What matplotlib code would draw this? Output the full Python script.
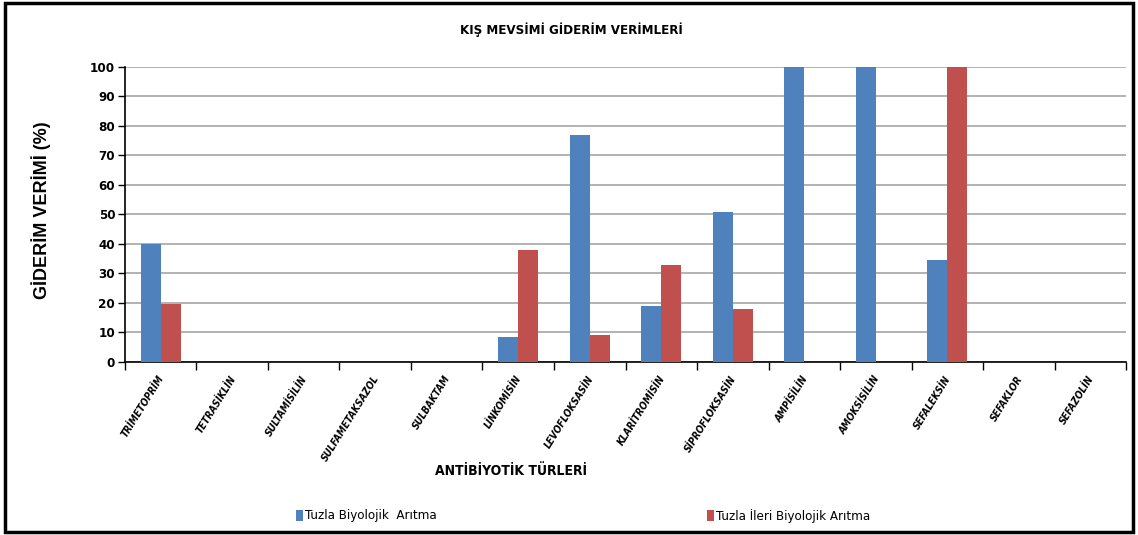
import matplotlib
matplotlib.use("Agg")
from matplotlib import pyplot as plt
from matplotlib.patches import Rectangle
import numpy as np

categories = ['TRİMETOPRİM', 'TETRASİKLİN', 'SULTAMİSİLİN', 'SULFAMETAKSAZOL', 'SULBAKTAM',
              'LİNKOMİSİN', 'LEVOFLOKSASİN', 'KLARİTROMİSİN', 'SİPROFLOKSASİN', 'AMPİSİLİN',
              'AMOKSİSİLİN', 'SEFALEKSİN', 'SEFAKLOR', 'SEFAZOLİN']
biyolojik = [40, 0, 0, 0, 0, 8.5, 77, 19, 51, 100, 100, 34.5, 0, 0]
ileri = [19.5, 0, 0, 0, 0, 38, 9, 33, 18, 0, 0, 100, 0, 0]
yticks = [0, 10, 20, 30, 40, 50, 60, 70, 80, 90, 100]

narrow = ['DejaVu Sans']
cond = 'condensed'
blue = '#4f81bd'
red = '#c0504d'

fig = plt.figure(figsize=(11.38, 5.35), dpi=100)
ax = fig.add_axes([0.1098, 0.3234, 0.8797, 0.5514])

x = np.arange(len(categories))
w = 0.28
ax.bar(x - w / 2, biyolojik, w, color=blue, label='Tuzla Biyolojik  Arıtma', zorder=3)
ax.bar(x + w / 2, ileri, w, color=red, label='Tuzla İleri Biyolojik Arıtma', zorder=3)

ax.set_xlim(-0.5, len(categories) - 0.5)
ax.set_ylim(0, 100)
ax.set_yticks(yticks)
ax.set_yticklabels([str(v) for v in yticks], family=narrow, fontsize=9.5, fontweight='bold',
                   fontstretch=cond)
ax.set_xticks(np.arange(len(categories) + 1) - 0.5)
ax.set_xticklabels([])
ax.tick_params(axis='x', direction='out', length=6, width=1)
ax.tick_params(axis='y', direction='out', length=5, width=1, pad=2)
for i, c in enumerate(categories):
    ax.text(i - 0.04, -4, c, rotation=58, ha='right', va='top', fontsize=7.2,
            fontweight='bold', fontstyle='italic', family=narrow, fontstretch=cond,
            rotation_mode='anchor')

ax.grid(axis='y', color='#a6a6a6', linewidth=1.2, zorder=0)
for s in ['top', 'right']:
    ax.spines[s].set_visible(False)
ax.spines['left'].set_linewidth(1.2)
ax.spines['bottom'].set_linewidth(1.2)

fig.text(0.502, 0.945, 'KIŞ MEVSİMİ GİDERİM VERİMLERİ', ha='center', va='center',
         family=narrow, fontsize=9.5, fontweight='bold', fontstretch=cond)
fig.text(0.036, 0.607, 'GİDERİM VERİMİ (%)', rotation=90, ha='center', va='center',
         fontsize=13, fontweight='bold', family=['Liberation Sans', 'DejaVu Sans'])
fig.text(0.449, 0.12, 'ANTİBİYOTİK TÜRLERİ', ha='center', va='center',
         family=narrow, fontsize=10, fontweight='bold', fontstretch=cond)

# legend entries placed like the original
fig.patches.append(Rectangle((0.2605, 0.027), 0.0055, 0.02, transform=fig.transFigure,
                             facecolor=blue, edgecolor='none'))
fig.text(0.268, 0.036, 'Tuzla Biyolojik  Arıtma', va='center', ha='left', family=narrow,
         fontsize=9.5, fontstretch=cond)
fig.patches.append(Rectangle((0.6215, 0.027), 0.0055, 0.02, transform=fig.transFigure,
                             facecolor=red, edgecolor='none'))
fig.text(0.629, 0.036, 'Tuzla İleri Biyolojik Arıtma', va='center', ha='left', family=narrow,
         fontsize=9.5, fontstretch=cond)

# outer frame
fig.patches.append(Rectangle((0.004, 0.006), 0.992, 0.988, transform=fig.transFigure,
                             fill=False, edgecolor='black', linewidth=2.5))

fig.savefig('out.png', dpi=100)
